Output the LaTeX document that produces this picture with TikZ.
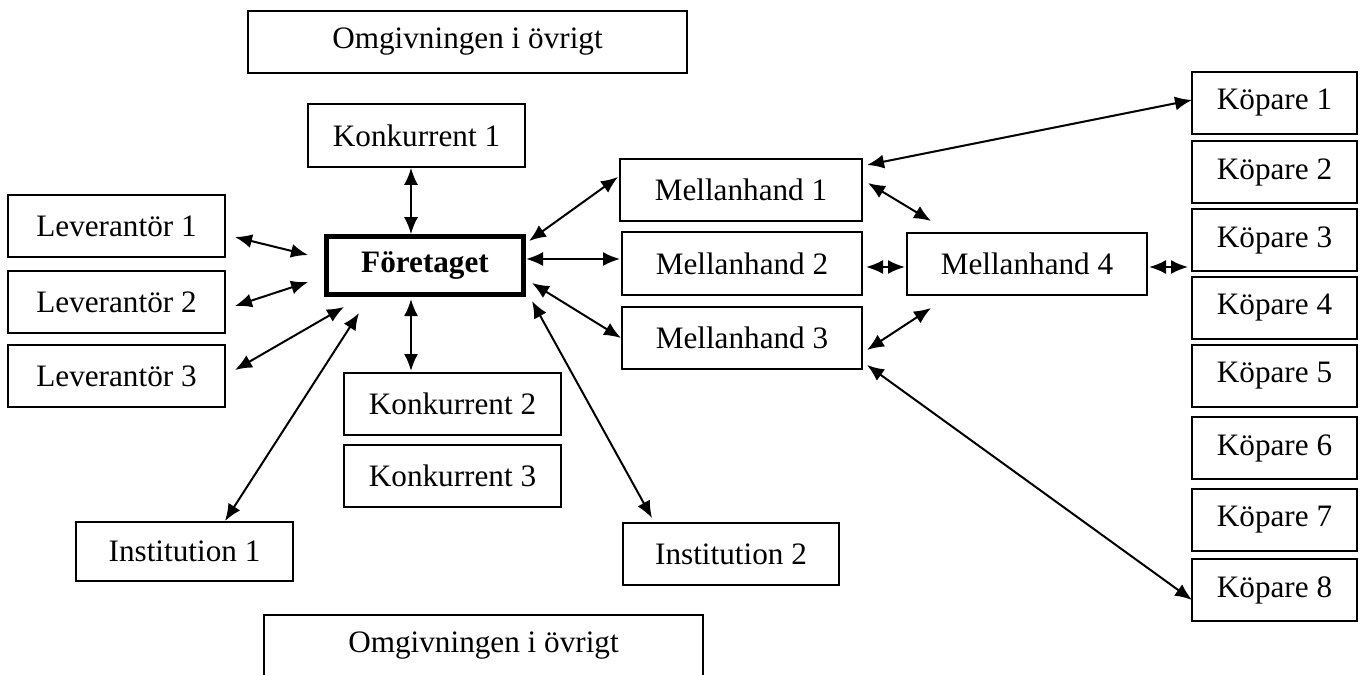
\documentclass[tikz,border=0pt]{standalone}
\usepackage{fontspec}
\setmainfont{Liberation Serif}
\usetikzlibrary{arrows.meta,calc}
\begin{document}
\begin{tikzpicture}[x=0.5pt,y=-0.5pt,
  box/.style={draw,line width=0.85pt,inner sep=0pt,font=\fontsize{15.6}{18}\selectfont},
  stdbox/.style={box,minimum width=108.5pt,minimum height=31pt},
  midbox/.style={box,minimum width=120pt,minimum height=31pt},
  kopbox/.style={box,minimum width=82.5pt,minimum height=31pt},
  envbox/.style={box,minimum width=219.5pt,minimum height=31pt},
  tip/.tip={Latex[length=8.5pt,width=7pt]},
  link/.style={tip-tip,line width=1pt}]
\useasboundingbox (0,0) rectangle (1363,674);

% nodes
\node[envbox] (omtop) at (467.5,42) {Omgivningen i övrigt};
\node[stdbox,minimum height=31.5pt] (konk1) at (416.5,135.5) {Konkurrent 1};
\node[stdbox] (lev1) at (116.5,226) {Leverantör 1};
\node[stdbox] (lev2) at (116.5,302) {Leverantör 2};
\node[stdbox] (lev3) at (116.5,376) {Leverantör 3};
\node[box,line width=2.3pt,minimum width=98.5pt,minimum height=29pt,font=\fontsize{15.6}{18}\selectfont\bfseries] (foretaget) at (425,265.5) {Företaget};
\node[stdbox] (konk2) at (452.5,404) {Konkurrent 2};
\node[stdbox] (konk3) at (452.5,476) {Konkurrent 3};
\node[stdbox,minimum height=29.5pt] (inst1) at (184.5,551.5) {Institution 1};
\node[stdbox,minimum width=108pt] (inst2) at (731,554) {Institution 2};
\node[envbox] (ombot) at (483.5,646) {Omgivningen i övrigt};
\node[midbox,minimum width=121pt] (mell1) at (741,190) {Mellanhand 1};
\node[midbox,minimum height=31.5pt] (mell2) at (742,263.5) {Mellanhand 2};
\node[midbox] (mell3) at (742,338) {Mellanhand 3};
\node[midbox] (mell4) at (1027,264) {Mellanhand 4};
\node[kopbox] (kop1) at (1274.5,103) {Köpare 1};
\node[kopbox] (kop2) at (1274.5,172) {Köpare 2};
\node[kopbox] (kop3) at (1274.5,240) {Köpare 3};
\node[kopbox] (kop4) at (1274.5,308) {Köpare 4};
\node[kopbox] (kop5) at (1274.5,376) {Köpare 5};
\node[kopbox] (kop6) at (1274.5,448) {Köpare 6};
\node[kopbox] (kop7) at (1274.5,520) {Köpare 7};
\node[kopbox] (kop8) at (1274.5,590) {Köpare 8};

% connector end points
\coordinate (l1a) at (235,237);  \coordinate (l1b) at (308,255);
\coordinate (l2a) at (235,306);  \coordinate (l2b) at (308,282);
\coordinate (l3a) at (235,370);  \coordinate (l3b) at (344,307);
\coordinate (i1a) at (225,521);  \coordinate (i1b) at (359,313);
\coordinate (kx) at (411,0);
\coordinate (k2a) at (411,299);  \coordinate (k2b) at (411,371);
\coordinate (m1a) at (529,241);  \coordinate (m1b) at (618,177);
\coordinate (m2a) at (526,259);  \coordinate (m2b) at (620,259);
\coordinate (m3a) at (532,283);  \coordinate (m3b) at (621,338);
\coordinate (i2a) at (532,301);  \coordinate (i2b) at (652,518);
\coordinate (q1a) at (867,165);  \coordinate (q1b) at (1192,100);
\coordinate (q2a) at (868,183);  \coordinate (q2b) at (931,221);
\coordinate (q3a) at (866,267);  \coordinate (q3b) at (905,267);
\coordinate (q4a) at (1149,267); \coordinate (q4b) at (1188,267);
\coordinate (q5a) at (867,350);  \coordinate (q5b) at (931,308);
\coordinate (q6a) at (867,365);  \coordinate (q6b) at (1192,600);

% connectors
\draw[link] (l1a) -- (l1b);
\draw[link] (l2a) -- (l2b);
\draw[link] (l3a) -- (l3b);
\draw[link] (i1a) -- (i1b);
\draw[link] (konk1.south -| kx) -- (foretaget.north -| kx);
\draw[link] (k2a) -- (k2b);
\draw[link] (m1a) -- (m1b);
\draw[link] (m2a) -- (m2b);
\draw[link] (m3a) -- (m3b);
\draw[link] (i2a) -- (i2b);
\draw[link] (q1a) -- (q1b);
\draw[link] (q2a) -- (q2b);
\draw[link] (q3a) -- (q3b);
\draw[link] (q4a) -- (q4b);
\draw[link] (q5a) -- (q5b);
\draw[link] (q6a) -- (q6b);
\end{tikzpicture}
\end{document}
